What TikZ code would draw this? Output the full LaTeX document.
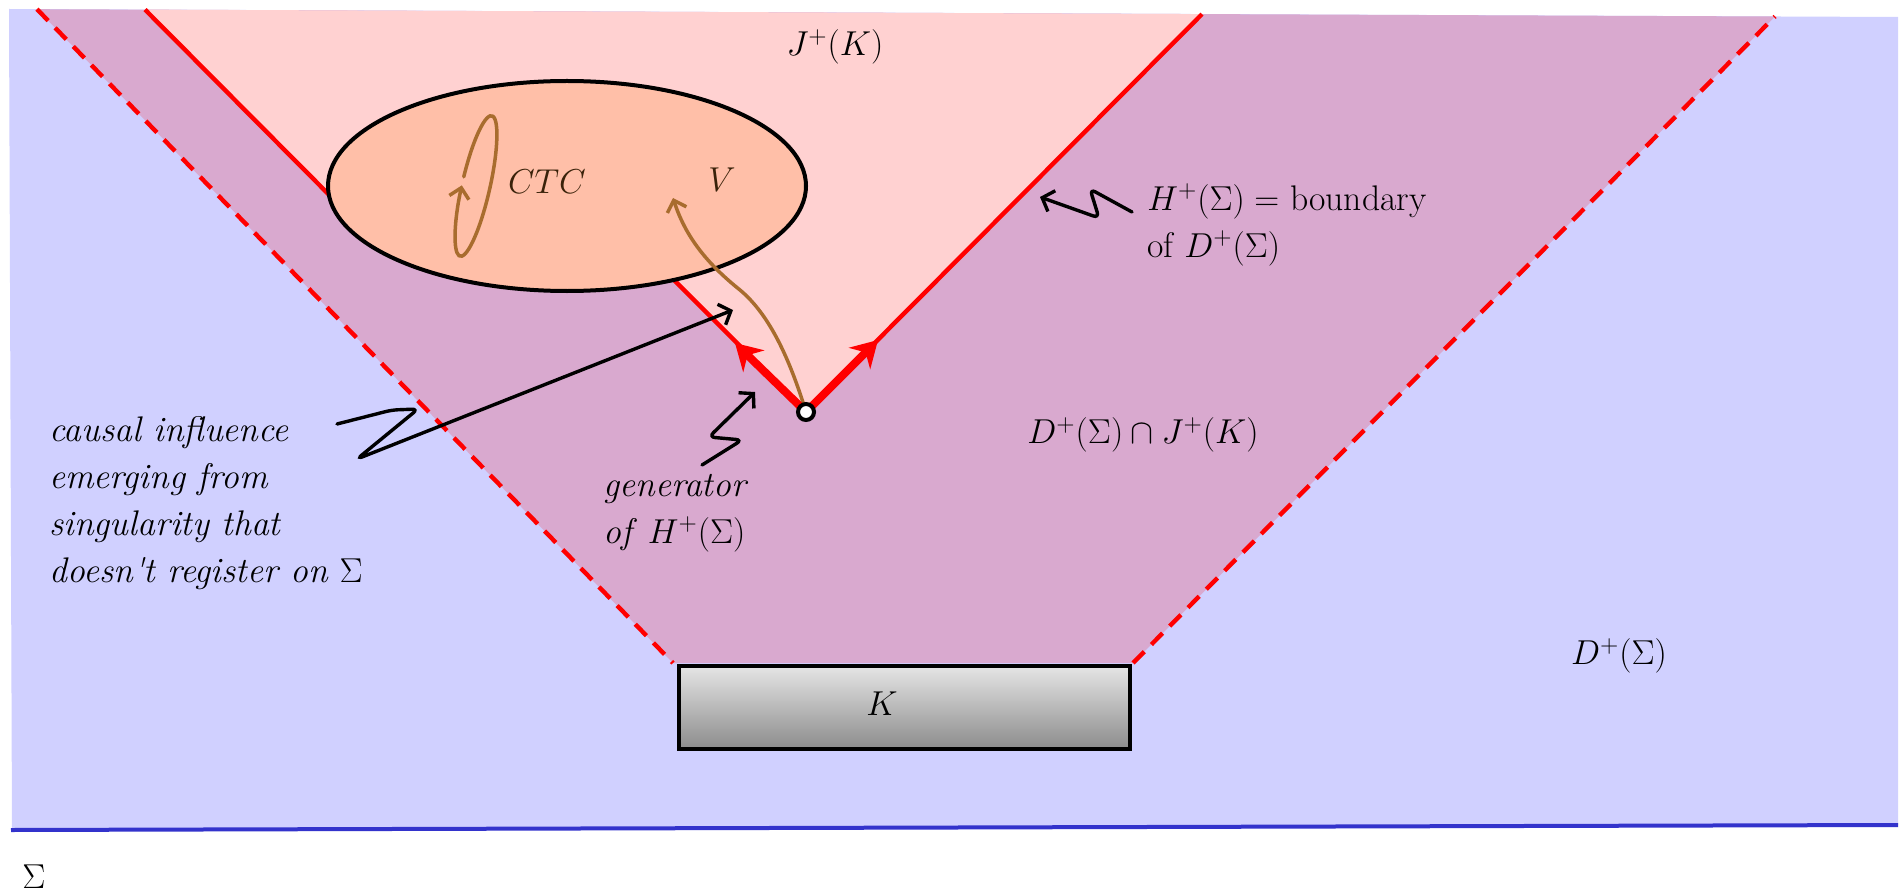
\documentclass[tikz,border=0pt]{standalone}
\usepackage{fontspec}
\usetikzlibrary{arrows.meta,shapes.geometric}
\definecolor{bluebg}{RGB}{208,208,255}
\definecolor{purp}{RGB}{217,169,207}
\definecolor{pinkr}{RGB}{255,209,209}
\definecolor{salmon}{RGB}{255,191,168}
\definecolor{brownc}{RGB}{168,108,46}
\definecolor{textbrown}{RGB}{58,34,10}
\definecolor{sigblue}{RGB}{51,51,204}
\definecolor{kTop}{RGB}{229,229,229}
\definecolor{kBot}{RGB}{140,140,140}
\begin{document}
\begin{tikzpicture}[x=0.5pt,y=-0.5pt,
  lbl/.style={font=\fontsize{17.8}{23.5}\selectfont, inner sep=0pt},
  redthin/.style={draw=red, line width=2.2pt},
  reddash/.style={draw=red, line width=2.2pt, dash pattern=on 8pt off 5pt},
  redthick/.style={draw=red, line width=4pt, -{Stealth[length=13pt,width=15pt]}},
  brownline/.style={draw=brownc, line width=1.75pt, line cap=round, -{Straight Barb[length=5pt,width=10pt]}},
  annot/.style={draw=black, line width=1.7pt, line cap=round, rounded corners=3pt, -{Straight Barb[length=5pt,width=11pt]}}]
\useasboundingbox (0,0) rectangle (1904,893);

% regions
\fill[bluebg] (9,9) -- (1898,17) -- (1898,825) -- (12,830) -- cycle;
\fill[purp] (37,9.2) -- (673,663) -- (1133,663) -- (1775,16.5) -- cycle;
\fill[pinkr] (145,9.6) -- (380,246) -- (640,246) -- (806,412) -- (1202,14.1) -- cycle;

% Sigma line
\coordinate (sl) at (11,830);
\coordinate (sr) at (1898,825);
\draw[sigblue, line width=2pt] (sl) -- (sr);

% dashed boundaries of the D+ cone
\coordinate (dlt) at (37,9.2);
\coordinate (dlb) at (673,663);
\coordinate (drb) at (1133,663);
\coordinate (drt) at (1775,16.5);
\draw[reddash] (dlt) -- (dlb);
\draw[reddash] (drb) -- (drt);

% solid boundaries (H+)
\coordinate (vtx) at (806,412);
\coordinate (ult) at (145,9.6);
\coordinate (ulb) at (380,246);
\coordinate (llt) at (640,246);
\coordinate (rt) at (1202,14.1);
\draw[redthin] (ult) -- (ulb);
\draw[redthin] (llt) -- (vtx) -- (rt);

% region V
\node[ellipse, draw, line width=2pt, fill=salmon, minimum width=239pt, minimum height=105pt, inner sep=0pt] (vreg) at (567,186) {};

% K box
\node[draw, line width=2pt, top color=kTop, bottom color=kBot, minimum width=225.5pt, minimum height=41.5pt, inner sep=0pt] (kbox) at (904.5,707.5) {};

% CTC loop
\begin{scope}[shift={(476,186)}, rotate=77.3]
  \draw[brownline] (85:36pt and 7pt) arc[start angle=85, end angle=-268, x radius=36pt, y radius=7pt];
\end{scope}

% causal curve from the singular point into V
\coordinate (vtip) at (673,198);
\draw[brownline] (vtx) .. controls (790,360) and (770,315) .. (740,290) .. controls (705,262) and (685,235) .. (vtip);

% generators
\coordinate (gl) at (735,343);
\coordinate (gr) at (878,340);
\draw[redthick] (vtx) -- (gl);
\draw[redthick] (vtx) -- (gr);

% singular point
\node[circle, draw, line width=2pt, fill=white, minimum size=8pt, inner sep=0pt] (sing) at (vtx) {};

% annotation squiggles
\coordinate (ca0) at (337,424);
\coordinate (ca1) at (733,310);
\draw[annot] (ca0) -- (392,410) -- (418,409) -- (357,459) -- (ca1);
\coordinate (ga0) at (702,465);
\coordinate (ga1) at (755,392);
\draw[annot] (ga0) -- (742,440) -- (709,437) -- (ga1);
\coordinate (ha0) at (1132,212);
\coordinate (ha1) at (1040,197);
\draw[annot] (ha0) -- (1090,189) -- (1099,218) -- (ha1);

% labels
\node[lbl] (jk) at (835,47) {$J^+(K)$};
\node[lbl, text=textbrown] (ctc) at (547,182) {$CTC$};
\node[lbl, text=textbrown] (vlab) at (722,180) {$V$};
\node[lbl, anchor=west, align=left] (hlab) at (1147,225) {$H^+(\Sigma) =$ boundary\\of $D^+(\Sigma)$};
\node[lbl] (dj) at (1143,435) {$D^+(\Sigma)\cap J^+(K)$};
\node[lbl] (dp) at (1619,656) {$D^+(\Sigma)$};
\node[lbl] (klab) at (882,704) {$K$};
\node[lbl] (sig) at (34,877) {$\Sigma$};
\node[lbl, anchor=west, align=left] (gen) at (603,513) {\textit{generator}\\\textit{of} $H^+(\Sigma)$};
\node[lbl, anchor=west, align=left] (caus) at (49,503) {\textit{causal influence}\\\textit{emerging from}\\\textit{singularity that}\\\textit{doesn\textquotesingle t register on} $\Sigma$};
\end{tikzpicture}
\end{document}
